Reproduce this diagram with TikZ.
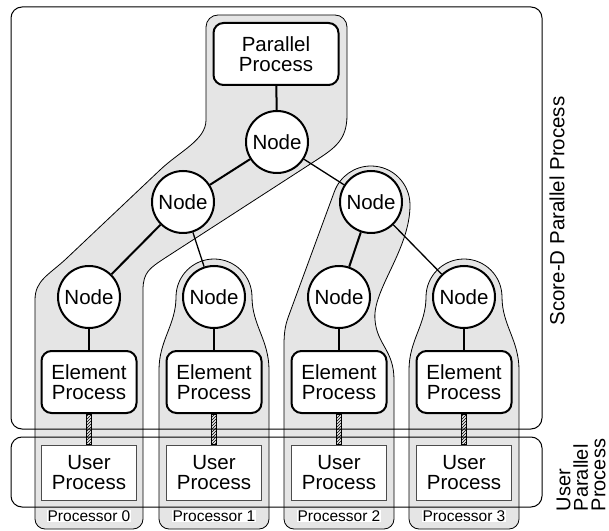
\documentclass[tikz,border=0pt]{standalone}
\usepackage{fontspec}
\setmainfont{Liberation Sans}
\usetikzlibrary{patterns}

\begin{document}
\begin{tikzpicture}[x=1pt, y=1pt,
    every node/.style={font=\fontsize{20.5}{19.5}\selectfont, align=center},
    region/.style={draw=black, line width=0.8pt, fill=black!10},
    frame/.style={draw=black, line width=1pt, rounded corners=11pt},
    proc/.style={draw, line width=2pt, rounded corners=10pt, fill=white, minimum width=95pt, minimum height=62pt, inner sep=0pt},
    tnode/.style={draw, circle, line width=2pt, fill=white, minimum size=62pt, inner sep=0pt},
    user/.style={draw=black!70, line width=1pt, fill=white, minimum width=95pt, minimum height=55pt, inner sep=0pt},
    cpu/.style={fill=white, inner sep=0.5pt, font=\fontsize{15.5}{16}\selectfont},
    main/.style={line width=2pt},
    side/.style={line width=1.3pt},
    hatch/.style={draw=black, line width=0.6pt, pattern=north east lines}]
    \useasboundingbox (0,0) rectangle (609,530);

    % Processor 0 with the parallel process
    \draw[region] (35,230) -- (35,11) arc[start angle=180, end angle=270, radius=10] -- (133,1) arc[start angle=270, end angle=360, radius=10] -- (143,240) .. controls (143,258) and (150,262) .. (165,272) -- (315,369) .. controls (335,382) and (347,390) .. (347,415) -- (347,503) arc[start angle=0, end angle=90, radius=12] -- (218,515) arc[start angle=90, end angle=180, radius=12] -- (206,410) .. controls (206,390) and (180,379) .. (160,360) -- (67,272) .. controls (49,255) and (35,250) .. (35,230) -- cycle;
    % Processor 1
    \draw[region] (159,160) -- (159,11) arc[start angle=180, end angle=270, radius=10] -- (259,1) arc[start angle=270, end angle=360, radius=10] -- (269,160) .. controls (269,190) and (252,205) .. (252,233) arc[start angle=0, end angle=180, radius=38] .. controls (176,205) and (159,190) .. (159,160) -- cycle;
    % Processor 2
    \draw[region] (284,185) -- (284,11) arc[start angle=180, end angle=270, radius=10] -- (384,1) arc[start angle=270, end angle=360, radius=10] -- (394,150) .. controls (394,180) and (377,185) .. (375,210) .. controls (372,240) and (410,280) .. (410,325) arc[start angle=0, end angle=160, radius=39] -- (289,215) .. controls (286,207) and (284,200) .. (284,185) -- cycle;
    % Processor 3
    \draw[region] (409,160) -- (409,11) arc[start angle=180, end angle=270, radius=10] -- (509,1) arc[start angle=270, end angle=360, radius=10] -- (519,160) .. controls (519,190) and (502,205) .. (502,233) arc[start angle=0, end angle=180, radius=38] .. controls (426,205) and (409,190) .. (409,160) -- cycle;

    % Score-D and user frames
    \draw[frame] (11,101) rectangle (542,523);
    \draw[frame] (11,23) rectangle (542,93);

    % Parallel process and tree
    \node[proc, minimum width=125pt] (pp) at (276,476) {Parallel\\Process};
    \node[tnode] (n) at (277,388) {Node};
    \node[tnode] (nl) at (183,328) {Node};
    \node[tnode] (nr) at (371,328) {Node};
    \node[tnode] (n0) at (89,233) {Node};
    \node[tnode] (n1) at (214,233) {Node};
    \node[tnode] (n2) at (339,233) {Node};
    \node[tnode] (n3) at (464,233) {Node};

    % Element processes
    \node[proc] (e0) at (89,148) {Element\\Process};
    \node[proc] (e1) at (214,148) {Element\\Process};
    \node[proc] (e2) at (339,148) {Element\\Process};
    \node[proc] (e3) at (464,148) {Element\\Process};

    % User processes
    \node[user] (u0) at (89,57.5) {User\\Process};
    \node[user] (u1) at (214,57.5) {User\\Process};
    \node[user] (u2) at (339,57.5) {User\\Process};
    \node[user] (u3) at (464,57.5) {User\\Process};

    % Processors
    \node[cpu] (p0) at (89,14) {Processor 0};
    \node[cpu] (p1) at (214,14) {Processor 1};
    \node[cpu] (p2) at (339,14) {Processor 2};
    \node[cpu] (p3) at (464,14) {Processor 3};

    % Side labels
    \node[rotate=90] (sd) at (557,319) {Score-D Parallel Process};
    \node[rotate=90, align=left, font=\fontsize{20}{17.5}\selectfont] (up) at (581,55) {User\\Parallel\\Process};

    % Links
    \draw[main] (pp) -- (n);
    \draw[main] (n) -- (nl);
    \draw[side] (n) -- (nr);
    \draw[main] (nl) -- (n0);
    \draw[side] (nl) -- (n1);
    \draw[main] (nr) -- (n2);
    \draw[side] (nr) -- (n3);
    \draw[main] (n0) -- (e0);
    \draw[main] (n1) -- (e1);
    \draw[main] (n2) -- (e2);
    \draw[main] (n3) -- (e3);
    \draw[hatch] ([xshift=-2.5pt]e0.south) rectangle ([xshift=2.5pt]u0.north);
    \draw[hatch] ([xshift=-2.5pt]e1.south) rectangle ([xshift=2.5pt]u1.north);
    \draw[hatch] ([xshift=-2.5pt]e2.south) rectangle ([xshift=2.5pt]u2.north);
    \draw[hatch] ([xshift=-2.5pt]e3.south) rectangle ([xshift=2.5pt]u3.north);
\end{tikzpicture}
\end{document}
